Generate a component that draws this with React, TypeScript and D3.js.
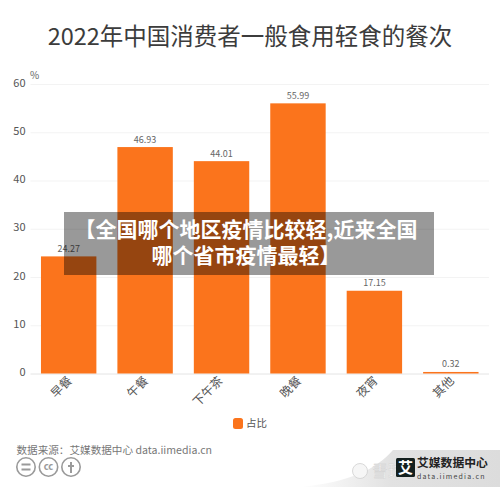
import * as d3 from "d3";
import React, { useEffect, useRef } from "react";

const categories = ["早餐", "午餐", "下午茶", "晚餐", "夜宵", "其他"];
const shares = [24.27, 46.93, 44.01, 55.99, 17.15, 0.32];
const yTicks = [0, 10, 20, 30, 40, 50, 60];
const bannerLines = ["【全国哪个地区疫情比较轻,近来全国", "哪个省市疫情最轻】"];

const width = 500;
const height = 487;
const margin = { top: 84, right: 11, bottom: 113.5, left: 30.5 };
const cjk = "'Noto Sans CJK SC', 'Noto Sans', sans-serif";
const orange = "#fb741c";

const App: React.FC = () => {
  const ref = useRef<SVGSVGElement | null>(null);

  useEffect(() => {
    if (!ref.current) return;
    const svg = d3.select(ref.current);
    svg.selectAll("*").remove();

    const x = d3
      .scaleBand<string>()
      .domain(categories)
      .range([margin.left, width - margin.right])
      .paddingInner(0.275)
      .paddingOuter(0.137);
    const y = d3
      .scaleLinear()
      .domain([0, 60])
      .range([height - margin.bottom, margin.top]);

    // Title
    svg
      .append("text")
      .attr("x", 250)
      .attr("y", 45)
      .attr("text-anchor", "middle")
      .attr("font-size", 23.5)
      .attr("fill", "#3c3c3c")
      .text("2022年中国消费者一般食用轻食的餐次");

    // Y axis with grid lines
    const yAxis = svg
      .append("g")
      .attr("transform", `translate(${margin.left},0)`)
      .call(
        d3
          .axisLeft(y)
          .tickValues(yTicks)
          .tickSize(-(width - margin.left - margin.right))
          .tickPadding(5)
      );
    yAxis.select(".domain").remove();
    yAxis
      .selectAll("line")
      .attr("stroke", (d) => (d === 0 ? "#e4e4e4" : "#f3f3f3"));
    yAxis
      .selectAll("text")
      .attr("font-family", cjk)
      .attr("font-size", 11)
      .attr("fill", "#555")
      .attr("dy", "0.2em");

    svg
      .append("text")
      .attr("x", 30)
      .attr("y", 79)
      .attr("font-size", 10)
      .attr("fill", "#666")
      .text("%");

    // Bars
    svg
      .append("g")
      .selectAll("rect")
      .data(shares)
      .join("rect")
      .attr("x", (_, i) => x(categories[i])!)
      .attr("y", (d) => y(d))
      .attr("width", x.bandwidth())
      .attr("height", (d) => y(0) - y(d))
      .attr("fill", orange);

    // Value labels
    svg
      .append("g")
      .selectAll("text")
      .data(shares)
      .join("text")
      .attr("x", (_, i) => x(categories[i])! + x.bandwidth() / 2)
      .attr("y", (d) => y(d) - 4.5)
      .attr("text-anchor", "middle")
      .attr("font-size", 9)
      .attr("fill", "#666")
      .text((d) => d.toFixed(2));

    // Rotated category labels
    const xAxis = svg
      .append("g")
      .attr("transform", `translate(0,${height - margin.bottom})`)
      .call(d3.axisBottom(x).tickSize(0).tickPadding(0));
    xAxis.select(".domain").remove();
    xAxis
      .selectAll("text")
      .attr("font-family", cjk)
      .attr("font-size", 12)
      .attr("fill", "#555")
      .attr("text-anchor", "end")
      .attr("dy", 0)
      .attr("transform", (d) => {
        const dx = d === "下午茶" ? 2 : 4;
        return `translate(${dx},8) rotate(-45)`;
      });

    // Legend
    svg
      .append("rect")
      .attr("x", 233)
      .attr("y", 418)
      .attr("width", 10)
      .attr("height", 11)
      .attr("rx", 2.5)
      .attr("fill", orange);
    svg
      .append("text")
      .attr("x", 246)
      .attr("y", 426.5)
      .attr("font-size", 10.5)
      .attr("fill", "#555")
      .text("占比");

    // Source
    svg
      .append("text")
      .attr("x", 16.5)
      .attr("y", 454)
      .attr("font-size", 10.6)
      .attr("fill", "#777")
      .text("数据来源：艾媒数据中心 data.iimedia.cn");

    // Licence badges
    const badges = svg.append("g").attr("fill", "none").attr("stroke", "#9a9a9a");
    [26, 48.5, 71].forEach((cx) =>
      badges
        .append("circle")
        .attr("cx", cx)
        .attr("cy", 467)
        .attr("r", 9.2)
        .attr("stroke-width", 1.6)
    );
    badges
      .append("path")
      .attr("d", "M21.5 464.5h9M21.5 469.5h9M71 462v11M68 466h6")
      .attr("stroke-width", 2);
    svg
      .append("text")
      .attr("x", 48.5)
      .attr("y", 470)
      .attr("text-anchor", "middle")
      .attr("font-size", 9.5)
      .attr("font-weight", 700)
      .attr("fill", "#9a9a9a")
      .text("cc");

    // Brand corner
    const defs = svg.append("defs");
    const grad = defs
      .append("linearGradient")
      .attr("id", "corner")
      .attr("x1", 0)
      .attr("x2", 1);
    grad.append("stop").attr("offset", 0).attr("stop-color", "#ffffff");
    grad.append("stop").attr("offset", 0.45).attr("stop-color", "#e2e2e2");
    grad.append("stop").attr("offset", 1).attr("stop-color", "#dcdcdc");
    svg
      .append("path")
      .attr("d", "M300 487C350 482 375 470 393 450H500V487Z")
      .attr("fill", "url(#corner)");

    // Xueqiu watermark, sits behind the logo
    svg
      .append("circle")
      .attr("cx", 360)
      .attr("cy", 471)
      .attr("r", 7.5)
      .attr("fill", "#f6f6f6")
      .attr("stroke", "#cfcfcf")
      .attr("stroke-width", 0.8);
    svg
      .append("text")
      .attr("x", 372)
      .attr("y", 477)
      .attr("font-size", 16)
      .attr("fill", "#f4f4f4")
      .attr("stroke", "#cccccc")
      .attr("stroke-width", 0.3)
      .text("雪球");

    svg
      .append("rect")
      .attr("x", 396)
      .attr("y", 458)
      .attr("width", 19)
      .attr("height", 19)
      .attr("rx", 1.5)
      .attr("fill", "#14201f");
    svg
      .append("text")
      .attr("x", 405.5)
      .attr("y", 473)
      .attr("text-anchor", "middle")
      .attr("font-size", 15)
      .attr("font-weight", 700)
      .attr("fill", "#fff")
      .text("艾");
    svg
      .append("text")
      .attr("x", 417)
      .attr("y", 467)
      .attr("font-size", 11.8)
      .attr("font-weight", 700)
      .attr("fill", "#222")
      .text("艾媒数据中心");
    svg
      .append("text")
      .attr("x", 417)
      .attr("y", 478.5)
      .attr("font-size", 7)
      .attr("letter-spacing", 1.2)
      .attr("fill", "#444")
      .text("data.iimedia.cn");

    // Banner over the chart
    svg
      .append("rect")
      .attr("x", 64)
      .attr("y", 212)
      .attr("width", 370)
      .attr("height", 63)
      .attr("fill", "#000")
      .attr("fill-opacity", 0.4);
    svg
      .append("g")
      .selectAll("text")
      .data(bannerLines)
      .join("text")
      .attr("x", 246)
      .attr("y", (_, i) => 236.5 + i * 26)
      .attr("text-anchor", "middle")
      .attr("font-size", 21)
      .attr("font-weight", 700)
      .attr("fill", "#fff")
      .text((d) => d);
  }, []);

  return (
    <svg
      ref={ref}
      width={width}
      height={height}
      fontFamily={cjk}
      style={{ position: "absolute", left: 0, top: 0, background: "#fff" }}
    />
  );
};

export default App;
